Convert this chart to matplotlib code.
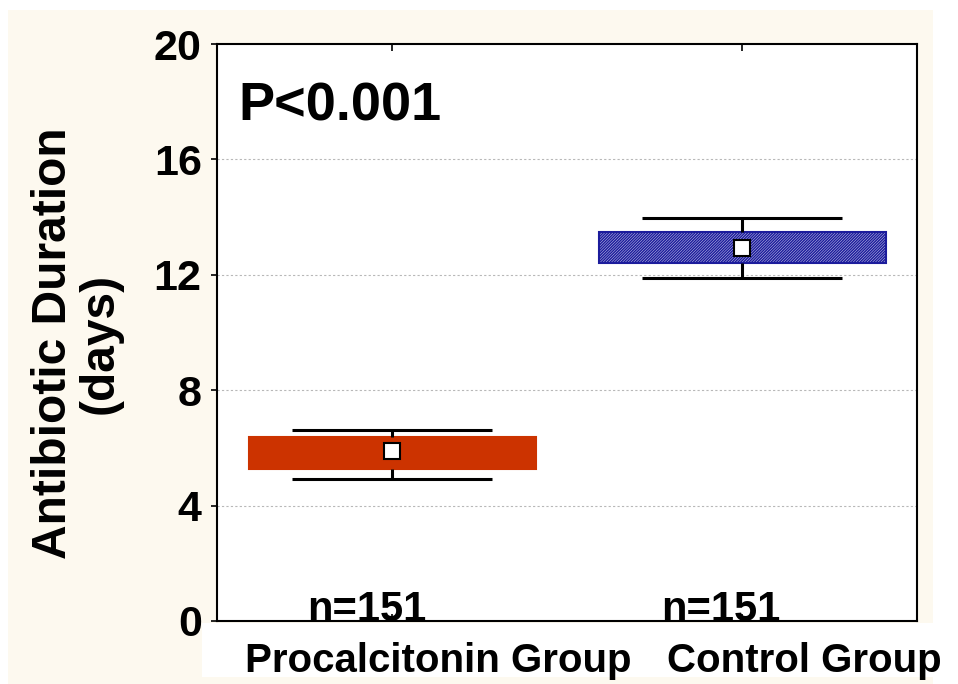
import matplotlib
matplotlib.use("Agg")
import matplotlib.pyplot as plt
from matplotlib.patches import Rectangle

# datos
grupos = ["Procalcitonin Group", "Control Group"]
medias = [5.89, 12.93]
caja_baja = [5.27, 12.41]
caja_alta = [6.38, 13.48]
bigote_bajo = [4.92, 11.89]
bigote_alto = [6.62, 13.97]
n_textos = ["n=151", "n=151"]
y_ticks = [0, 4, 8, 12, 16, 20]

plt.rcParams["font.family"] = ["Liberation Sans", "DejaVu Sans"]
plt.rcParams["font.weight"] = "bold"
plt.rcParams["hatch.linewidth"] = 1.1

fig = plt.figure(figsize=(9.58, 6.84), dpi=100, facecolor="white")
# fondo crema y franja blanca de las etiquetas
fig.patches.append(Rectangle((8 / 958, 0), 925 / 958, 674 / 684, transform=fig.transFigure,
                             facecolor="#fdf9ef", edgecolor="none", zorder=-10))
fig.patches.append(Rectangle((202 / 958, 7 / 684), 756 / 958, 54 / 684, transform=fig.transFigure,
                             facecolor="white", edgecolor="none", zorder=-9))

ax = fig.add_axes([217 / 958, 63 / 684, 700 / 958, 577 / 684])
ax.set_zorder(1)
ax.set_facecolor("white")

pos = [1, 2]
colores = ["#cc3300", "#e8e8f8"]
bordes = ["#cc3300", "#1c1c9c"]
tramas = [None, "////////////"]
for i in range(2):
    ax.bar(pos[i], caja_alta[i] - caja_baja[i], bottom=caja_baja[i], width=0.82,
           color=colores[i], edgecolor=bordes[i], hatch=tramas[i], linewidth=1.5, zorder=2)
    ax.vlines(pos[i], bigote_bajo[i], caja_baja[i], color="black", lw=2.2, zorder=3)
    ax.vlines(pos[i], caja_alta[i], bigote_alto[i], color="black", lw=2.2, zorder=3)
    ax.hlines([bigote_bajo[i], bigote_alto[i]], pos[i] - 0.285, pos[i] + 0.285,
              color="black", lw=2.2, zorder=3)
    ax.plot(pos[i], medias[i], "s", ms=11, mfc="white", mec="black", mew=1.5, zorder=4)

ax.set_xlim(0.5, 2.5)
ax.set_ylim(0, 20)
ax.set_yticks(y_ticks)
ax.set_xticks(pos)
ax.set_xticklabels([])
ax.tick_params(axis="y", direction="out", length=4, width=1.2, labelsize=31, pad=7)
ax.tick_params(axis="x", direction="in", length=5, width=1.2, top=True)
for s in ax.spines.values():
    s.set_linewidth(1.5)
for t in y_ticks[1:-1]:
    ax.axhline(t, color="#b8b8b8", lw=0.8, ls=(0, (2, 2)), zorder=1)

ax.text(0.03, 0.935, "P<0.001", transform=ax.transAxes, fontsize=39, fontweight="bold",
        ha="left", va="top")
n_x = [0.927, 1.94]
for i in range(2):
    ax.text(n_x[i], 0.01, n_textos[i], fontsize=30, fontweight="bold", ha="center", va="baseline")

etiq_x = [438, 804]
for i in range(2):
    fig.text(etiq_x[i] / 958, 12 / 684, grupos[i], fontsize=29, fontweight="bold",
             ha="center", va="baseline")

fig.text(77 / 958, 341 / 684, "Antibiotic Duration\n(days)", rotation=90, fontsize=34.5,
         fontweight="bold", ha="center", va="center", multialignment="center", linespacing=1.05)

plt.savefig("out.png", dpi=100, facecolor=fig.get_facecolor())
